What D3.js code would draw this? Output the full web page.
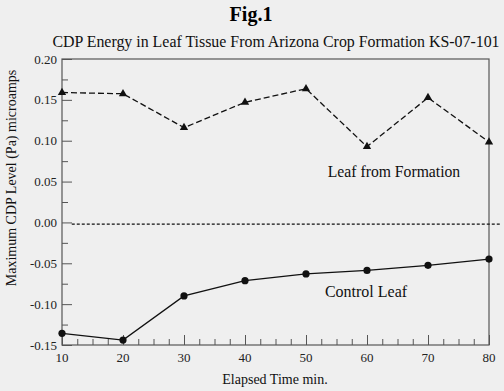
<!DOCTYPE html>
<html><head><meta charset="utf-8">
<script src="https://cdn.jsdelivr.net/npm/d3@7"></script>
<style>body{margin:0;background:#efefef;}svg{display:block;}</style>
</head><body>
<script>
const times = [10,20,30,40,50,60,70,80];
const formation = [0.159,0.1575,0.116,0.147,0.1636,0.0927,0.1527,0.0984];
const control = [-0.1357,-0.144,-0.090,-0.0713,-0.063,-0.0587,-0.0525,-0.0448];
const baseline = [[11.6,-0.002],[81.8,-0.002]];
const yTicks = [-0.15,-0.10,-0.05,0.00,0.05,0.10,0.15,0.20];
const xTicks = [10,20,30,40,50,60,70,80];

const W=504,H=391;
const m={l:62,r:15,t:59,b:46};
const svg=d3.select("body").append("svg").attr("width",W).attr("height",H).style("background","#efefef");
const x=d3.scaleLinear().domain([10,80]).range([m.l,W-m.r]);
const y=d3.scaleLinear().domain([-0.15,0.20]).range([H-m.b,m.t]);
const font="'Liberation Serif','Times New Roman',serif";
const axisCol="#555";

// frame
svg.append("rect").attr("x",x(10)).attr("y",y(0.20)).attr("width",x(80)-x(10)).attr("height",y(-0.15)-y(0.20))
  .attr("fill","none").attr("stroke",axisCol).attr("stroke-width",1.2);

// y axis ticks (inward)
const yAx=d3.axisRight(y).tickValues(yTicks).tickSize(10).tickFormat("");
svg.append("g").attr("transform",`translate(${x(10)},0)`).call(yAx)
  .call(g=>{g.select(".domain").remove();g.selectAll("line").attr("stroke",axisCol);});
const yMinor=d3.range(-0.125,0.2,0.05);
svg.append("g").attr("transform",`translate(${x(10)},0)`).call(d3.axisRight(y).tickValues(yMinor).tickSize(6).tickFormat(""))
  .call(g=>{g.select(".domain").remove();g.selectAll("line").attr("stroke",axisCol);});
yTicks.forEach(v=>svg.append("text").attr("x",x(10)-5).attr("y",y(v)).attr("dy","0.35em")
  .attr("text-anchor","end").attr("font-family",font).attr("font-size",13).attr("fill","#222").text(v.toFixed(2)));

// x axis ticks (inward)
svg.append("g").attr("transform",`translate(0,${y(-0.15)})`).call(d3.axisTop(x).tickValues(xTicks).tickSize(10).tickFormat(""))
  .call(g=>{g.select(".domain").remove();g.selectAll("line").attr("stroke",axisCol);});
const xMinor=d3.range(12.5,80,2.5).filter(v=>v%10!==0);
svg.append("g").attr("transform",`translate(0,${y(-0.15)})`).call(d3.axisTop(x).tickValues(xMinor).tickSize(6).tickFormat(""))
  .call(g=>{g.select(".domain").remove();g.selectAll("line").attr("stroke",axisCol);});
xTicks.forEach(v=>svg.append("text").attr("x",x(v)).attr("y",y(-0.15)+17)
  .attr("text-anchor","middle").attr("font-family",font).attr("font-size",13).attr("fill","#222").text(v));

const line=d3.line().x(d=>x(d[0])).y(d=>y(d[1]));
// baseline dashed
svg.append("path").attr("d",line(baseline)).attr("fill","none").attr("stroke","#111").attr("stroke-width",1.2).attr("stroke-dasharray","3,2");
// formation
const fd=times.map((t,i)=>[t,formation[i]]);
svg.append("path").attr("d",line(fd)).attr("fill","none").attr("stroke","#111").attr("stroke-width",1.3).attr("stroke-dasharray","6,3");
svg.selectAll(".tri").data(fd).join("path").attr("d",d3.symbol(d3.symbolTriangle,30))
  .attr("transform",d=>`translate(${x(d[0])},${y(d[1])})`).attr("fill","#111");
// control
const cd=times.map((t,i)=>[t,control[i]]);
svg.append("path").attr("d",line(cd)).attr("fill","none").attr("stroke","#111").attr("stroke-width",1.3);
svg.selectAll(".cir").data(cd).join("circle").attr("cx",d=>x(d[0])).attr("cy",d=>y(d[1])).attr("r",3.6).attr("fill","#111");

// labels
svg.append("text").attr("x",394).attr("y",177).attr("text-anchor","middle").attr("font-family",font).attr("font-size",15.7).attr("fill","#111").text("Leaf from Formation");
svg.append("text").attr("x",366).attr("y",297).attr("text-anchor","middle").attr("font-family",font).attr("font-size",16).attr("fill","#111").text("Control Leaf");

// titles
svg.append("text").attr("x",251).attr("y",21).attr("text-anchor","middle").attr("font-family",font).attr("font-weight","bold").attr("font-size",20).attr("fill","#000").text("Fig.1");
svg.append("text").attr("x",276).attr("y",47).attr("text-anchor","middle").attr("font-family",font).attr("font-size",15.9).attr("fill","#111").text("CDP Energy in Leaf Tissue From Arizona Crop Formation KS-07-101");
svg.append("text").attr("x",275).attr("y",384).attr("text-anchor","middle").attr("font-family",font).attr("font-size",14).attr("fill","#111").text("Elapsed Time min.");
svg.append("text").attr("transform",`translate(16,178) rotate(-90)`).attr("text-anchor","middle").attr("font-family",font).attr("font-size",14).attr("fill","#111").text("Maximum CDP Level (Pa) microamps");
</script>
</body></html>
